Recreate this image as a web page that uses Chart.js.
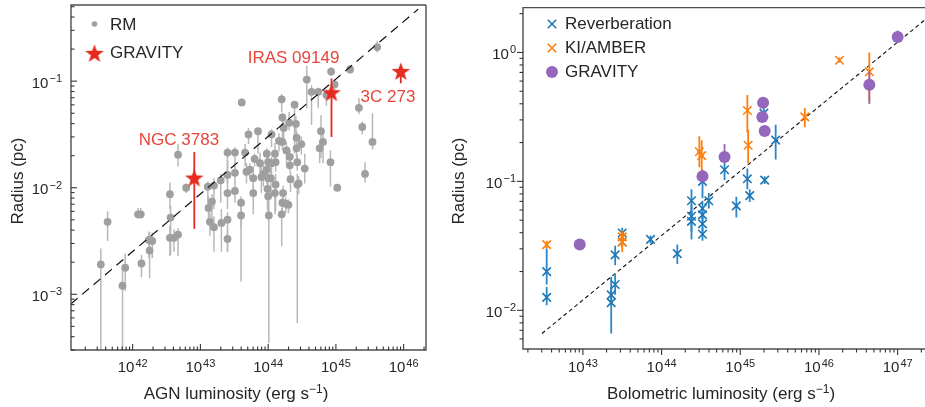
<!DOCTYPE html>
<html>
<head>
<meta charset="utf-8">
<script src="https://cdn.jsdelivr.net/npm/chart.js@4.4.1/dist/chart.umd.min.js"></script>
<style>
  html, body { margin: 0; padding: 0; background: #fff; overflow: hidden; }
  #wrap { position: relative; width: 925px; height: 407px; overflow: hidden; }
  #left { position: absolute; left: 0; top: 0; }
  #right { position: absolute; left: 440px; top: 0; }
</style>
</head>
<body>
<div id="wrap">
  <canvas id="left" width="440" height="407"></canvas>
  <canvas id="right" width="495" height="407"></canvas>
</div>
<script>
// left panel: reverberation-mapped AGN (log10 values, errors in dex)
const rmLogL = [41.53, 41.63, 41.85, 41.89, 42.13, 42.08, 42.12, 42.25, 42.24, 42.29,
  42.55, 42.56, 42.55, 42.61, 42.67, 42.67, 42.79, 43.11, 43.20, 43.17,
  43.12, 43.14, 43.20, 43.30, 43.31, 43.40, 43.40, 43.40, 43.40, 43.40,
  43.51, 43.51, 43.51, 43.60, 43.60, 43.61, 43.66, 43.71, 43.68, 43.73,
  43.78, 43.80, 43.85, 43.88, 43.90, 43.98, 43.98, 43.99, 44.00, 44.01,
  44.05, 44.05, 44.10, 44.11, 44.11, 44.20, 44.21, 44.21, 44.23, 44.22,
  44.21, 44.26, 44.30, 44.31, 44.32, 44.32, 44.33, 44.39, 44.41, 44.42,
  44.42, 44.43, 44.43, 44.45, 44.49, 44.54, 44.57, 44.64, 44.78, 44.76,
  44.81, 44.74, 44.86, 44.93, 44.98, 44.92, 45.02, 45.21, 45.34, 45.39,
  45.43, 45.54, 45.61, 44.04, 44.16, 44.27, 43.78, 44.00, 43.93, 44.00,
  44.20, 44.10];
const rmLogR = [-2.72, -2.32, -2.92, -2.75, -2.71, -2.25, -2.25, -2.59, -2.49, -2.50,
  -2.06, -2.28, -2.47, -2.47, -2.44, -1.69, -2.00, -1.99, -1.98, -2.13,
  -2.19, -2.32, -2.37, -1.93, -2.33, -1.67, -1.88, -2.05, -2.30, -2.48,
  -1.67, -1.86, -2.03, -2.14, -2.26, -1.20, -1.67, -1.50, -1.85, -1.83,
  -1.91, -1.73, -1.47, -1.77, -1.90, -1.68, -1.83, -2.01, -2.08, -2.26,
  -1.50, -1.77, -1.68, -1.76, -1.97, -1.17, -1.34, -1.57, -1.44, -2.05,
  -2.14, -2.15, -2.16, -1.39, -1.71, -1.79, -1.92, -1.22, -1.40, -1.53,
  -1.63, -1.76, -1.97, -1.96, -1.59, -1.82, -0.985, -1.10, -1.47, -1.63,
  -1.57, -1.10, -1.13, -0.91, -1.03, -1.76, -2.00, -0.89, -1.25, -1.43,
  -1.87, -1.57, -0.68, -1.91, -1.56, -1.65, -2.05, -1.76, -1.87, -1.91,
  -2.25, -2.05];
const rmErrUp = [0.15, 0.10, 0.14, 0.13, 0.08, 0.06, 0.06, 0.17, 0.08, 0.08,
  0.11, 0.11, 0.11, 0.08, 0.06, 0.10, 0.04, 0.05, 0.07, 0.07,
  0.11, 0.09, 0.10, 0.06, 0.13, 0.05, 0.14, 0.12, 0.07, 0.09,
  0.05, 0.09, 0.08, 0.06, 0.12, 0.02, 0.08, 0.06, 0.08, 0.06,
  0.11, 0.05, 0.03, 0.10, 0.12, 0.05, 0.10, 0.08, 0.10, 0.15,
  0.05, 0.06, 0.10, 0.07, 0.10, 0.05, 0.04, 0.10, 0.10, 0.07,
  0.05, 0.06, 0.05, 0.10, 0.07, 0.06, 0.07, 0.03, 0.07, 0.06,
  0.05, 0.07, 0.10, 0.07, 0.07, 0.14, 0.13, 0.06, 0.15, 0.08,
  0.07, 0.04, 0.05, 0.04, 0.05, 0.11, 0.03, 0.04, 0.09, 0.05,
  0.11, 0.27, 0.06, 0.10, 0.07, 0.08, 0.08, 0.06, 0.08, 0.07,
  0.06, 0.08];
const rmErrDown = [1.00, 0.18, 1.00, 0.22, 0.13, 0.04, 0.04, 0.26, 0.17, 0.16,
  0.14, 0.35, 0.17, 0.13, 0.20, 0.11, 0.05, 0.18, 0.22, 0.19,
  0.13, 0.13, 0.23, 0.21, 0.27, 0.29, 0.08, 0.15, 0.30, 0.12,
  0.23, 0.10, 0.11, 0.74, 0.12, 0.02, 0.13, 0.09, 0.11, 0.08,
  0.11, 0.07, 0.21, 0.12, 0.15, 0.15, 0.13, 0.20, 0.15, 1.20,
  0.12, 0.10, 0.08, 0.09, 0.25, 0.12, 0.09, 0.08, 0.10, 0.13,
  0.10, 0.09, 0.08, 0.07, 0.10, 0.06, 0.12, 0.46, 0.12, 0.10,
  0.12, 0.08, 1.30, 0.10, 0.10, 0.14, 0.27, 0.31, 0.25, 0.14,
  0.20, 0.15, 0.10, 0.04, 0.06, 0.23, 0.03, 0.04, 0.06, 0.07,
  0.08, 0.07, 0.05, 0.15, 0.10, 0.12, 0.20, 0.10, 0.12, 0.10,
  0.30, 0.20];

const gravNames = ['NGC 3783', 'IRAS 09149', '3C 273'];
const gravLogL = [42.91, 44.935, 45.958];
const gravLogR = [-1.905, -1.104, -0.905];
const gravErrUp = [0.24, 0.13, 0.05];
const gravErrDown = [0.48, 0.42, 0.115];

const fitLeftLogL = [41.086, 46.213];
const fitLeftLogR = [-3.092, -0.325];

// right panel: bolometric luminosity
const revLogL = [42.54, 42.54, 43.36, 43.36, 43.41, 43.41, 43.50, 43.50, 43.86, 44.20,
  44.38, 44.38, 44.38, 44.52, 44.52, 44.52, 44.52, 44.52, 44.60, 44.80,
  44.95, 45.09, 45.12, 45.31, 45.30, 45.45];
const revLogR = [-1.70, -1.90, -1.94, -1.88, -1.80, -1.57, -1.40, -1.47, -1.45, -1.56,
  -1.15, -1.27, -1.31, -1.00, -1.21, -1.26, -1.33, -1.41, -1.15, -0.91,
  -1.19, -0.98, -1.11, -0.99, -0.47, -0.68];
const revErrUp = [0.18, 0.08, 0.20, 0.06, 0.08, 0.07, 0.04, 0.04, 0.03, 0.07,
  0.09, 0.09, 0.08, 0.09, 0.06, 0.06, 0.05, 0.05, 0.06, 0.06,
  0.07, 0.08, 0.05, 0.03, 0.06, 0.12];
const revErrDown = [0.10, 0.06, 0.24, 0.06, 0.08, 0.08, 0.04, 0.04, 0.03, 0.08,
  0.11, 0.12, 0.14, 0.13, 0.08, 0.06, 0.06, 0.05, 0.06, 0.08,
  0.09, 0.08, 0.05, 0.03, 0.06, 0.15];

const kiLogL = [42.54, 43.50, 43.50, 44.48, 44.51, 45.09, 45.10, 45.82, 46.26, 46.64];
const kiLogR = [-1.49, -1.43, -1.47, -0.77, -0.80, -0.45, -0.72, -0.50, -0.06, -0.15];
const kiErrUp = [0.03, 0.05, 0.05, 0.12, 0.12, 0.12, 0.12, 0.07, 0.02, 0.15];
const kiErrDown = [0.03, 0.05, 0.08, 0.12, 0.12, 0.17, 0.14, 0.08, 0.02, 0.23];

const gvLogL = [42.96, 44.52, 44.80, 45.29, 45.28, 45.31, 46.64, 47.00];
const gvLogR = [-1.49, -0.96, -0.81, -0.39, -0.50, -0.61, -0.25, 0.12];
const gvErrUp = [0.03, 0.03, 0.10, 0.02, 0.02, 0.02, 0.10, 0.05];
const gvErrDown = [0.03, 0.03, 0.03, 0.02, 0.02, 0.02, 0.15, 0.04];

const fitRightLogL = [42.48, 47.35];
const fitRightLogR = [-2.18, 0.255];

const FONT = '"Liberation Sans", Arial, Helvetica, sans-serif';
const INK = '#262626';
const GREY = '#9f9f9f';
const RED = '#e52b1f';
const BLUE = '#1f77b4';
const ORANGE = '#ff7f0e';
const PURPLE = '#9467bd';

const toPoints = function (logL, logR, up, down) {
  return logL.map(function (l, i) {
    return {
      x: Math.pow(10, l),
      y: Math.pow(10, logR[i]),
      yHi: Math.pow(10, logR[i] + up[i]),
      yLo: Math.pow(10, logR[i] - down[i])
    };
  });
};

const toLine = function (logL, logR) {
  return logL.map(function (l, i) {
    return { x: Math.pow(10, l), y: Math.pow(10, logR[i]) };
  });
};

const makeStar = function (r, color) {
  const size = Math.ceil(r * 2 + 2);
  const c = document.createElement('canvas');
  c.width = size;
  c.height = size;
  const g = c.getContext('2d');
  g.fillStyle = color;
  g.beginPath();
  for (let i = 0; i < 10; i++) {
    const rad = i % 2 === 0 ? r : r * 0.4;
    const ang = -Math.PI / 2 + i * Math.PI / 5;
    const px = size / 2 + rad * Math.cos(ang);
    const py = size / 2 + 1 + rad * Math.sin(ang);
    if (i === 0) g.moveTo(px, py); else g.lineTo(px, py);
  }
  g.closePath();
  g.fill();
  return c;
};

const starImg = makeStar(9.8, RED);

const errorBars = {
  id: 'errorBars',
  beforeDatasetDraw: function (chart, args) {
    const ds = chart.data.datasets[args.index];
    if (!ds.errColor) return;
    const ctx = chart.ctx;
    const a = chart.chartArea;
    const xs = chart.scales.x;
    const ys = chart.scales.y;
    ctx.save();
    ctx.beginPath();
    ctx.rect(a.left, a.top, a.right - a.left, a.bottom - a.top);
    ctx.clip();
    ctx.strokeStyle = ds.errColor;
    ctx.lineWidth = ds.errWidth || 1.5;
    ds.data.forEach(function (p) {
      const px = xs.getPixelForValue(p.x);
      ctx.beginPath();
      ctx.moveTo(px, ys.getPixelForValue(p.yHi));
      ctx.lineTo(px, ys.getPixelForValue(p.yLo));
      ctx.stroke();
    });
    ctx.restore();
  }
};

const drawPow = function (ctx, exp, x, baseY, align) {
  const expText = String(exp).replace('-', '\u2212');
  ctx.font = '15px ' + FONT;
  const w1 = ctx.measureText('10').width;
  ctx.font = '11px ' + FONT;
  const w2 = ctx.measureText(expText).width;
  const total = w1 + 1 + w2;
  const left = align === 'center' ? x - total / 2 : x - total;
  ctx.textAlign = 'left';
  ctx.textBaseline = 'alphabetic';
  ctx.font = '15px ' + FONT;
  ctx.fillText('10', left, baseY);
  ctx.font = '11px ' + FONT;
  ctx.fillText(expText, left + w1 + 1, baseY - 5.5);
};

const drawRich = function (ctx, parts, x, y, size) {
  const small = Math.round(size * 0.68);
  let total = 0;
  parts.forEach(function (p) {
    ctx.font = (p.sup ? small : size) + 'px ' + FONT;
    p.w = ctx.measureText(p.t).width;
    total += p.w;
  });
  let cx = x - total / 2;
  ctx.textAlign = 'left';
  ctx.textBaseline = 'alphabetic';
  parts.forEach(function (p) {
    ctx.font = (p.sup ? small : size) + 'px ' + FONT;
    ctx.fillText(p.t, cx, p.sup ? y - size * 0.36 : y);
    cx += p.w;
  });
};

const logTicks = function (scale) {
  const out = [];
  const lo = Math.floor(Math.log10(scale.min));
  const hi = Math.ceil(Math.log10(scale.max));
  for (let d = lo; d <= hi; d++) {
    for (let k = 1; k <= 9; k++) {
      const v = k * Math.pow(10, d);
      if (v >= scale.min * 0.999 && v <= scale.max * 1.001) out.push({ v: v, major: k === 1, exp: d });
    }
  }
  return out;
};

const makeFrame = function (cfg) {
  return {
    id: 'frame',
    afterDraw: function (chart) {
      const ctx = chart.ctx;
      const a = chart.chartArea;
      const xs = chart.scales.x;
      const ys = chart.scales.y;
      ctx.save();
      ctx.strokeStyle = '#4d4d4d';
      ctx.lineWidth = 1.4;
      ctx.beginPath();
      ctx.moveTo(a.right, a.top);
      ctx.lineTo(a.left, a.top);
      ctx.lineTo(a.left, a.bottom);
      ctx.lineTo(a.right, a.bottom);
      if (cfg.closed) ctx.lineTo(a.right, a.top);
      ctx.stroke();

      ctx.lineWidth = 1.1;
      ctx.strokeStyle = '#333';
      ctx.fillStyle = INK;
      const dir = cfg.inward ? -1 : 1;
      logTicks(xs).forEach(function (t) {
        const px = xs.getPixelForValue(t.v);
        const len = t.major ? 6 : 3.5;
        ctx.beginPath();
        ctx.moveTo(px, a.bottom);
        ctx.lineTo(px, a.bottom + dir * len);
        ctx.stroke();
        if (t.major) drawPow(ctx, t.exp, px, 372, 'center');
      });
      logTicks(ys).forEach(function (t) {
        const py = ys.getPixelForValue(t.v);
        const len = t.major ? 6 : 3.5;
        ctx.beginPath();
        ctx.moveTo(a.left, py);
        ctx.lineTo(a.left - dir * len, py);
        ctx.stroke();
        if (t.major) drawPow(ctx, t.exp, a.left - cfg.yGap, py + 6.5, 'right');
      });

      drawRich(ctx, cfg.xTitle, cfg.xTitleX, 399, 17);
      ctx.save();
      ctx.translate(cfg.yTitleX, 181);
      ctx.rotate(-Math.PI / 2);
      drawRich(ctx, [{ t: 'Radius (pc)' }], 0, 6, 17);
      ctx.restore();

      cfg.extra(ctx, chart);
      ctx.restore();
    }
  };
};

const label = function (ctx, text, x, y, color, size) {
  ctx.fillStyle = color;
  ctx.font = size + 'px ' + FONT;
  ctx.textAlign = 'left';
  ctx.textBaseline = 'middle';
  ctx.fillText(text, x, y);
};

const crossMark = function (ctx, x, y, r, color) {
  const d = r * Math.SQRT1_2;
  ctx.strokeStyle = color;
  ctx.lineWidth = 1.6;
  ctx.beginPath();
  ctx.moveTo(x - d, y - d);
  ctx.lineTo(x + d, y + d);
  ctx.moveTo(x + d, y - d);
  ctx.lineTo(x - d, y + d);
  ctx.stroke();
};

const baseOptions = function (xr, yr, yWidth, xHeight, pad) {
  return {
    responsive: false,
    animation: false,
    events: [],
    layout: { padding: pad },
    plugins: { legend: { display: false }, tooltip: { enabled: false } },
    scales: {
      x: {
        type: 'logarithmic',
        min: Math.pow(10, xr[0]),
        max: Math.pow(10, xr[1]),
        grid: { display: false },
        border: { display: false },
        ticks: { display: false },
        afterFit: function (scale) { scale.height = xHeight; }
      },
      y: {
        type: 'logarithmic',
        min: Math.pow(10, yr[0]),
        max: Math.pow(10, yr[1]),
        grid: { display: false },
        border: { display: false },
        ticks: { display: false },
        afterFit: function (scale) { scale.width = yWidth; }
      }
    }
  };
};

new Chart(document.getElementById('left'), {
  type: 'scatter',
  data: {
    datasets: [
      {
        label: 'GRAVITY',
        data: toPoints(gravLogL, gravLogR, gravErrUp, gravErrDown),
        pointStyle: starImg,
        errColor: RED,
        errWidth: 1.8,
        order: 0
      },
      {
        label: 'fit',
        data: toLine(fitLeftLogL, fitLeftLogR),
        showLine: true,
        borderColor: '#111',
        borderWidth: 1.2,
        borderDash: [9, 6],
        pointRadius: 0,
        order: 1
      },
      {
        label: 'RM',
        data: toPoints(rmLogL, rmLogR, rmErrUp, rmErrDown),
        pointRadius: 3.9,
        backgroundColor: GREY,
        borderWidth: 0,
        errColor: '#b8b8b8',
        errWidth: 1.5,
        order: 2
      }
    ]
  },
  options: baseOptions([41.09, 46.33], [-3.46, -0.285], 71, 57, { left: 0, right: 14, top: 5, bottom: 0 }),
  plugins: [errorBars, makeFrame({
    inward: true,
    closed: true,
    yGap: 9,
    xTitleX: 236,
    yTitleX: 17,
    xTitle: [{ t: 'AGN luminosity (erg s' }, { t: '\u22121', sup: true }, { t: ')' }],
    extra: function (ctx) {
      ctx.fillStyle = GREY;
      ctx.beginPath();
      ctx.arc(94.5, 24, 2.8, 0, Math.PI * 2);
      ctx.fill();
      ctx.drawImage(starImg, 94.5 - starImg.width / 2, 53 - starImg.height / 2);
      label(ctx, 'RM', 110, 25, INK, 17);
      label(ctx, 'GRAVITY', 110, 53.5, INK, 17);
      ctx.textAlign = 'center';
      ctx.fillStyle = '#e8453c';
      ctx.font = '17px ' + FONT;
      ctx.textBaseline = 'middle';
      ctx.fillText(gravNames[0], 179, 140);
      ctx.fillText(gravNames[1], 293.5, 58);
      ctx.fillText(gravNames[2], 388, 97);
    }
  })]
});

new Chart(document.getElementById('right'), {
  type: 'scatter',
  data: {
    datasets: [
      {
        label: 'GRAVITY',
        data: toPoints(gvLogL, gvLogR, gvErrUp, gvErrDown),
        pointRadius: 6,
        backgroundColor: PURPLE,
        borderWidth: 0,
        errColor: PURPLE,
        errWidth: 1.8,
        order: 0
      },
      {
        label: 'KI/AMBER',
        data: toPoints(kiLogL, kiLogR, kiErrUp, kiErrDown),
        pointStyle: 'crossRot',
        pointRadius: 6,
        borderColor: ORANGE,
        borderWidth: 1.6,
        errColor: ORANGE,
        errWidth: 1.8,
        order: 1
      },
      {
        label: 'Reverberation',
        data: toPoints(revLogL, revLogR, revErrUp, revErrDown),
        pointStyle: 'crossRot',
        pointRadius: 6,
        borderColor: BLUE,
        borderWidth: 1.6,
        errColor: '#2a86c8',
        errWidth: 1.8,
        order: 2
      },
      {
        label: 'fit',
        data: toLine(fitRightLogL, fitRightLogR),
        showLine: true,
        borderColor: '#111',
        borderWidth: 1.1,
        borderDash: [4, 3],
        pointRadius: 0,
        order: 3
      }
    ]
  },
  options: baseOptions([42.239, 47.378], [-2.30, 0.348], 83, 58, { left: 0, right: 0, top: 4, bottom: 0 }),
  plugins: [errorBars, makeFrame({
    inward: false,
    closed: false,
    yGap: 7,
    xTitleX: 281,
    yTitleX: 17.5,
    xTitle: [{ t: 'Bolometric luminosity (erg s' }, { t: '\u22121', sup: true }, { t: ')' }],
    extra: function (ctx) {
      crossMark(ctx, 112, 24, 6, BLUE);
      crossMark(ctx, 112, 48, 6, ORANGE);
      ctx.fillStyle = PURPLE;
      ctx.beginPath();
      ctx.arc(112, 72, 6, 0, Math.PI * 2);
      ctx.fill();
      label(ctx, 'Reverberation', 125, 24.5, INK, 17);
      label(ctx, 'KI/AMBER', 125, 48.5, INK, 17);
      label(ctx, 'GRAVITY', 125, 72.5, INK, 17);
    }
  })]
});
</script>
</body>
</html>
